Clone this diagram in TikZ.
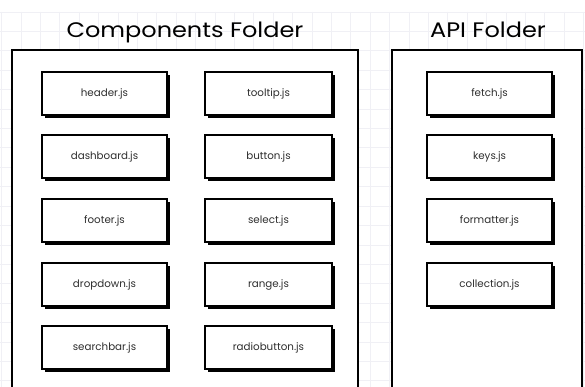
\documentclass[tikz,border=0pt]{standalone}
\usepackage{fontspec}
\setmainfont{Poppins}
\usetikzlibrary{shadows}
\definecolor{gridc}{RGB}{240,240,245}
\tikzset{
  filebox/.style={draw=black, line width=1.4pt, fill=white, minimum width=125pt, minimum height=43pt,
    inner sep=0pt, font=\fontsize{10.3}{12}\selectfont\color{black!82},
    drop shadow={shadow xshift=2.6pt, shadow yshift=-2.6pt, fill=black, opacity=1}},
  folder/.style={draw=black, line width=2pt, fill=white},
  title/.style={font=\fontsize{20}{24}\selectfont, anchor=base, inner sep=0pt}
}
\begin{document}
\begin{tikzpicture}[x=1pt,y=-1pt]
\useasboundingbox (0,0) rectangle (585,387);
\clip (0,0) rectangle (585,387);
\fill[white] (0,0) rectangle (585,387);
% faint grid
\foreach \i in {0,...,30} {\draw[gridc, line width=0.6pt] (1.5+19.4*\i,12) -- (1.5+19.4*\i,387);}
\foreach \j in {0,...,19} {\draw[gridc, line width=0.6pt] (0,12+19.4*\j) -- (585,12+19.4*\j);}
% titles
\node[title] (t1) at (185,38) {\scalebox{1.2}[1.05]{Components Folder}};
\node[title] (t2) at (488,38) {\scalebox{1.2}[1.05]{API Folder}};
% folders
\draw[folder] (12,50) rectangle (358,400);
\draw[folder] (392,50) rectangle (582,400);
% component files
\node[filebox] (header) at (104.5,93.5) {header.js};
\node[filebox] (dash) at (104.5,156.5) {dashboard.js};
\node[filebox] (footer) at (104.5,220.5) {footer.js};
\node[filebox] (drop) at (104.5,284.5) {dropdown.js};
\node[filebox] (search) at (104.5,347.5) {searchbar.js};
\node[filebox, minimum width=127pt] (tooltip) at (268.5,93.5) {tooltip.js};
\node[filebox, minimum width=127pt] (button) at (268.5,156.5) {button.js};
\node[filebox, minimum width=127pt] (select) at (268.5,220.5) {select.js};
\node[filebox, minimum width=127pt] (range) at (268.5,284.5) {range.js};
\node[filebox, minimum width=127pt] (radio) at (268.5,347.5) {radiobutton.js};
% api files
\node[filebox] (fetch) at (489.5,93.5) {fetch.js};
\node[filebox] (keys) at (489.5,156.5) {keys.js};
\node[filebox] (formatter) at (489.5,220.5) {formatter.js};
\node[filebox] (collection) at (489.5,284.5) {collection.js};
\end{tikzpicture}
\end{document}
